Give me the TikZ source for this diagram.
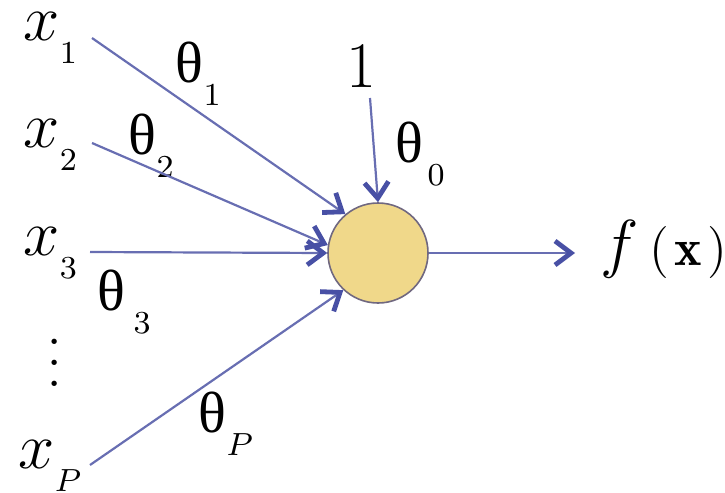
\RequirePackage{fix-cm}
\documentclass[tikz,border=0pt]{standalone}
\usepackage{fontspec}
\newfontfamily\grk{Liberation Serif}
\usetikzlibrary{arrows.meta}
\definecolor{linec}{RGB}{104,110,178}
\definecolor{tipc}{RGB}{72,80,165}
\definecolor{fillc}{RGB}{240,216,138}
\definecolor{rimc}{RGB}{112,104,128}
\newcommand{\lowsub}[1]{\raisebox{-5.75pt}{\fontsize{8}{9.6}\selectfont$#1$}}
\newcommand{\tht}{{\fontsize{14.5}{17}\grk θ}}
\begin{document}
\begin{tikzpicture}[x=0.25pt,y=-0.25pt,
  lbl/.style={inner sep=0pt,anchor=base west,font=\fontsize{16.25}{19.5}\selectfont},
  conn/.style={draw=linec,line width=0.55pt,-{Straight Barb[length=4pt,width=6pt,line width=1.2pt,color=tipc]}},
  unit/.style={circle,draw=rimc,line width=0.4pt,fill=fillc,minimum size=25pt,inner sep=0pt}]
\useasboundingbox (0,0) rectangle (725,492);
\node[unit] (n) at (378,253) {};
% inputs
\node[lbl] (x1) at (23,40) {$x$\lowsub{1}};
\node[lbl] (x2) at (23,147) {$x$\lowsub{2}};
\node[lbl] (x3) at (23,255) {$x$\lowsub{3}};
\node[lbl] (xp) at (18,468) {$x$\lowsub{P}};
\node[lbl,anchor=center] (dots) at (55,363) {\vbox{\baselineskip=5.25pt\lineskiplimit=0pt\hbox{.}\hbox{.}\hbox{.}}};
\node[lbl,anchor=base] (one) at (361,87) {1};
% weights
\node[lbl] (t1) at (175,82) {\tht\lowsub{1}};
\node[lbl] (t2) at (128,154) {\tht\lowsub{2}};
\node[lbl] (t3) at (97,310) {\tht\hspace{2pt}\lowsub{3}};
\node[lbl] (t0) at (395,162) {\tht\hspace{1pt}\lowsub{0}};
\node[lbl] (tp) at (198,432) {\tht\lowsub{P}};
% output
\node[lbl] (fx) at (600,265) {$f$\hspace{2.5pt}{\fontsize{13}{15}\selectfont$(\mkern2mu\mathbf{x}\mkern2mu)$}};
% connector ends
\coordinate (s1) at (92,38);
\coordinate (s2) at (92,143);
\coordinate (s3) at (90,252);
\coordinate (sp) at (90,465);
\coordinate (s0) at (370,98);
\draw[conn] (s1) -- (n.130);
\draw[conn] (s2) -- (n.171);
\draw[conn] (s3) -- (n.180);
\draw[conn] (sp) -- (n.227);
\draw[conn] (s0) -- (n.90);
\draw[conn,shorten >=6.25pt] (n) -- (n -| fx.west);
\end{tikzpicture}
\end{document}
